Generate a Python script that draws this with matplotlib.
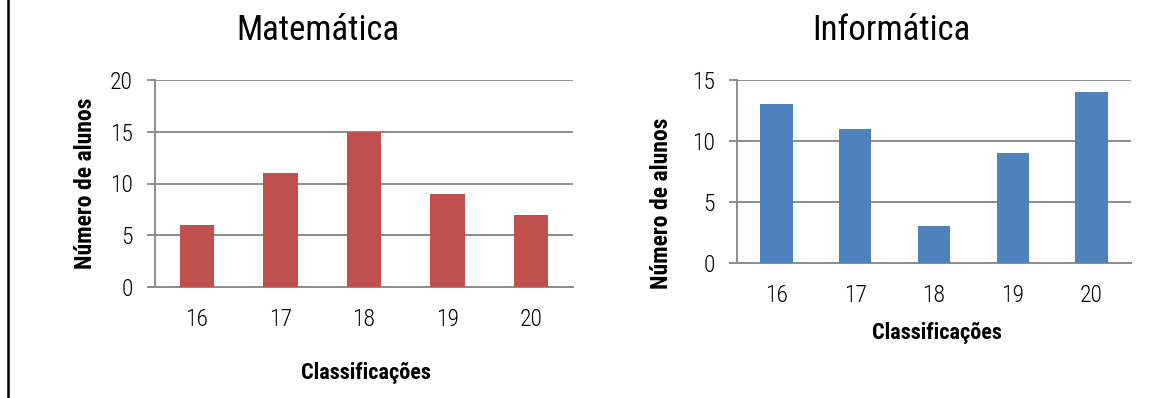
import matplotlib.pyplot as plt
from matplotlib.lines import Line2D

classes = ['16', '17', '18', '19', '20']
matematica = [6, 11, 15, 9, 7]
informatica = [13, 11, 3, 9, 14]

FONT = ['Roboto Condensed', 'Liberation Sans', 'DejaVu Sans']
plt.rcParams['font.family'] = FONT

fig = plt.figure(figsize=(11.5, 3.98), dpi=100)
W, H = 1150, 398


def px(x0, y0, x1, y1):
    return [x0 / W, 1 - y1 / H, (x1 - x0) / W, (y1 - y0) / H]


def draw(rect, values, color, ymax, step):
    ax = fig.add_axes(rect)
    ax.bar(range(len(classes)), values, width=0.41, color=color, zorder=3)
    ax.set_xlim(-0.5, len(classes) - 0.5)
    ax.set_ylim(0, ymax)
    ax.set_yticks(range(0, ymax + 1, step))
    ax.set_xticks(range(len(classes)))
    ax.set_xticklabels(classes)
    ax.yaxis.grid(True, color='#8c8c8c', linewidth=1.4, zorder=0)
    ax.set_axisbelow(True)
    for s in ['top', 'right']:
        ax.spines[s].set_visible(False)
    for s in ['left', 'bottom']:
        ax.spines[s].set_color('#8c8c8c')
        ax.spines[s].set_linewidth(1.4)
    ax.tick_params(axis='y', length=6, width=1.4, color='#8c8c8c', pad=10, labelsize=17)
    ax.tick_params(axis='x', length=0, pad=15, labelsize=17)
    for lab in ax.get_xticklabels() + ax.get_yticklabels():
        lab.set_fontweight(300)
    return ax


draw(px(155, 80, 573, 287), matematica, '#C0504D', 20, 5)
draw(px(737, 80, 1131, 263), informatica, '#4F81BD', 15, 5)

fig.text(318 / W, 1 - 30 / H, 'Matemática', ha='center', va='center', fontsize=25)
fig.text(891 / W, 1 - 30 / H, 'Informática', ha='center', va='center', fontsize=25)
fig.text(366 / W, 1 - 373 / H, 'Classificações', ha='center', va='center',
         fontsize=16, fontweight='bold')
fig.text(937 / W, 1 - 333 / H, 'Classificações', ha='center', va='center',
         fontsize=16, fontweight='bold')
fig.text(85 / W, 1 - 183 / H, 'Número de alunos', ha='center', va='center',
         rotation=90, fontsize=17, fontweight='bold')
fig.text(662 / W, 1 - 203 / H, 'Número de alunos', ha='center', va='center',
         rotation=90, fontsize=17, fontweight='bold')

# left border line
fig.add_artist(Line2D([8 / W, 8 / W], [0, 1], color='black', linewidth=1.8))

fig.savefig('out.png', dpi=100)
